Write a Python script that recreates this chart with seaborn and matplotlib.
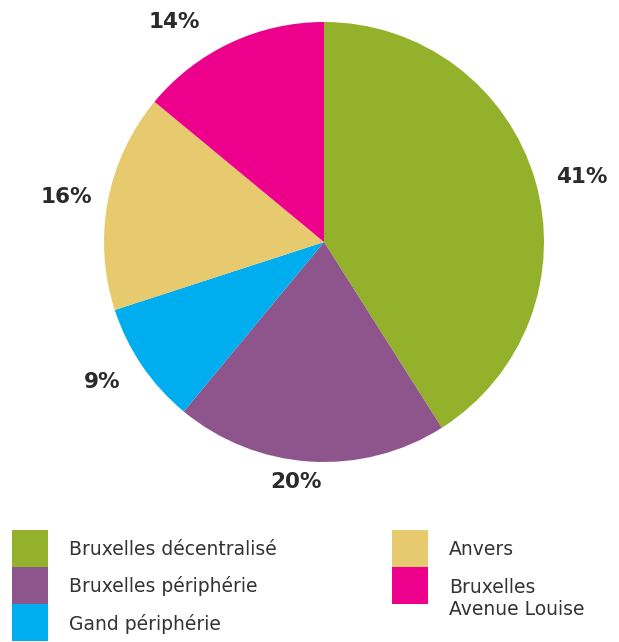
import matplotlib
matplotlib.use("Agg")
import matplotlib.pyplot as plt
import seaborn as sns
import numpy as np
from matplotlib.patches import Rectangle

categories = ["Bruxelles décentralisé", "Bruxelles périphérie", "Gand périphérie",
              "Anvers", "Bruxelles\nAvenue Louise"]
shares = [41, 20, 9, 16, 14]
colors = ["#94B12B", "#8E558D", "#00AEEF", "#E8CA6E", "#EC008C"]

sns.set_theme(style="white")
plt.rcParams["font.family"] = ["DejaVu Sans"]

W, H = 619, 642
fig = plt.figure(figsize=(W / 100, H / 100), dpi=100)
ax = fig.add_axes([0, 0, 1, 1])

cx, cy, r = 324, H - 242, 220
wedges, _ = ax.pie(shares, colors=colors, startangle=90, counterclock=False,
                   center=(cx, cy), radius=r,
                   wedgeprops=dict(linewidth=0))
ax.set_xlim(0, W)
ax.set_ylim(0, H)
ax.set_aspect("equal")
ax.axis("off")

# percentage labels just outside each wedge
dist = [1.21, 1.10, 1.19, 1.19, 1.21]
shift = [-2, -3, -2, 1, 9]
for w, v, d, s in zip(wedges, shares, dist, shift):
    ang = np.deg2rad((w.theta1 + w.theta2) / 2 + s)
    ax.text(cx + r * d * np.cos(ang), cy + r * d * np.sin(ang), f"{v}%",
            ha="center", va="center", fontsize=15.5, fontweight="bold",
            color="#2b2b2b")

# legend: two columns of touching colour squares
sq_w, sq_h = 36, 37
col_x = [12, 392]
top = H - 530
for i, (lab, col) in enumerate(zip(categories, colors)):
    c, row = (0, i) if i < 3 else (1, i - 3)
    x0 = col_x[c]
    y0 = top - (row + 1) * sq_h
    ax.add_patch(Rectangle((x0, y0), sq_w, sq_h, facecolor=col, edgecolor="none"))
    if "\n" in lab:
        ax.text(x0 + 57, y0 + sq_h - 11, lab, ha="left", va="top",
                fontsize=13.5, color="#333333", linespacing=1.18)
    else:
        ax.text(x0 + 57, y0 + sq_h / 2 - 1, lab, ha="left", va="center",
                fontsize=13.5, color="#333333")

fig.savefig("out.png", dpi=100)
